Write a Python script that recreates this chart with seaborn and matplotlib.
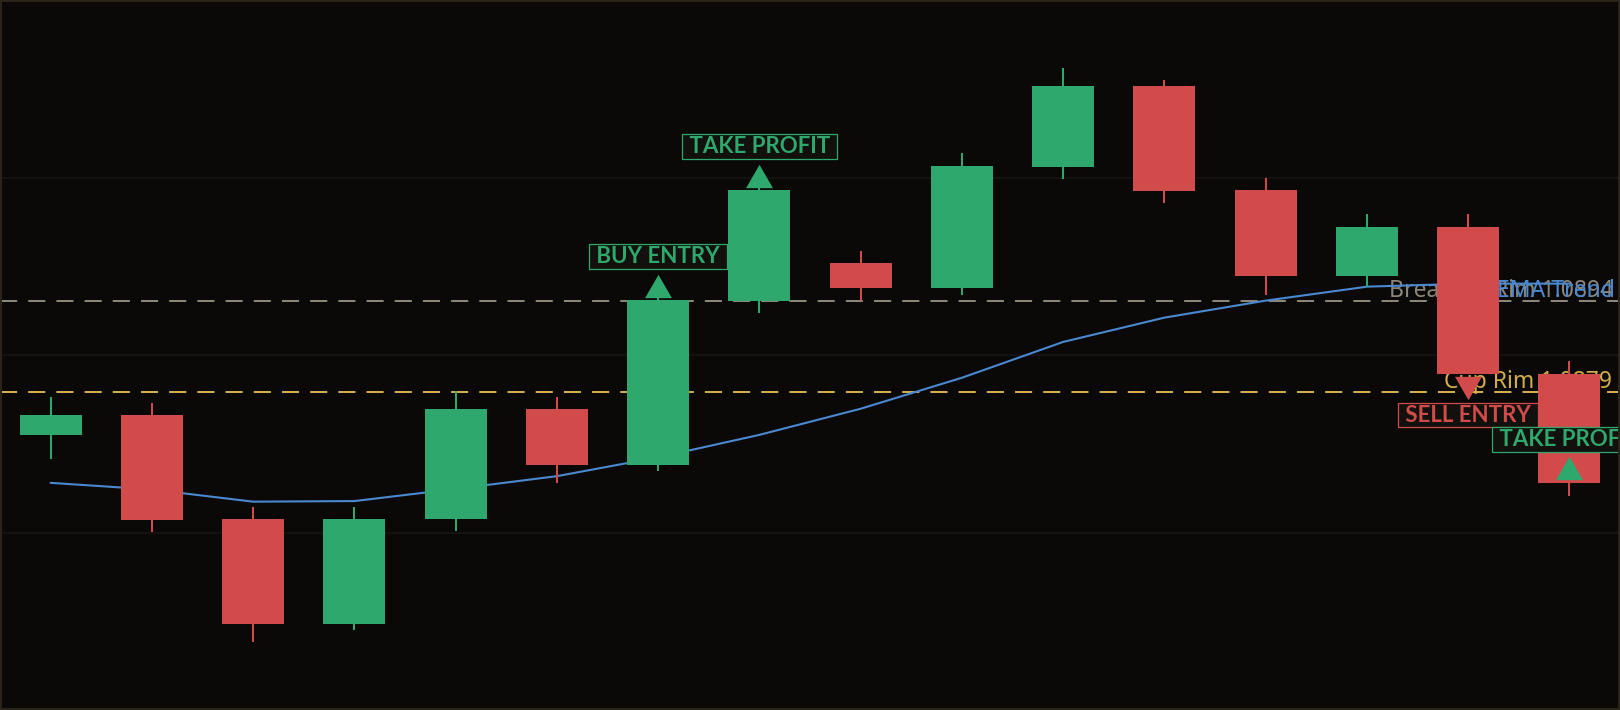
import matplotlib
matplotlib.use("Agg")
import matplotlib.pyplot as plt
import matplotlib.transforms as mtransforms
from matplotlib.patches import Rectangle
from matplotlib import font_manager
import numpy as np
import pandas as pd
import seaborn as sns

# price data (16 candles)
opens  = [1.08719, 1.08752, 1.08580, 1.08408, 1.08581, 1.08762, 1.08670, 1.08940,
          1.09002, 1.08961, 1.09160, 1.09294, 1.09122, 1.08981, 1.09061, 1.08820]
highs  = [1.08781, 1.08772, 1.08600, 1.08600, 1.08791, 1.08781, 1.08944, 1.09127,
          1.09022, 1.09183, 1.09323, 1.09303, 1.09142, 1.09083, 1.09083, 1.08841]
lows   = [1.08679, 1.08559, 1.08378, 1.08398, 1.08561, 1.08640, 1.08660, 1.08920,
          1.08940, 1.08949, 1.09140, 1.09101, 1.08949, 1.08963, 1.08819, 1.08619]
closes = [1.08752, 1.08579, 1.08408, 1.08581, 1.08762, 1.08670, 1.08941, 1.09122,
          1.08961, 1.09162, 1.09294, 1.09121, 1.08981, 1.09061, 1.08820, 1.08640]
ema    = [1.08640, 1.08629, 1.08609, 1.08610, 1.08630, 1.08651, 1.08682, 1.08719,
          1.08762, 1.08813, 1.08872, 1.08912, 1.08940, 1.08963, 1.08968, 1.08968]

BREAKOUT_RIM = 1.0894
CUP_RIM = 1.0879

# trade signals
signal_idx  = [6, 7, 14, 15]
signal_text = ['BUY ENTRY', 'TAKE PROFIT', 'SELL ENTRY', 'TAKE PROFIT']
signal_side = ['up', 'up', 'down', 'up']

#colors
BG = '#0a0908'
GREEN = '#2ea86c'
RED = '#d14b4b'
BLUE = '#4a88d0'
GREY = '#8c8679'
GOLD = '#d2ad4e'

sns.set_theme(style='dark', rc={'figure.facecolor': BG, 'axes.facecolor': BG})
plt.rcParams['font.family'] = ['Noto Sans', 'DejaVu Sans']

# pick a family that really has a bold face for the signal labels
bold_family = 'DejaVu Sans'
for fam in ['Lato', 'Roboto', 'Noto Sans', 'Open Sans', 'Liberation Sans']:
    try:
        f = font_manager.findfont(font_manager.FontProperties(family=fam, weight='bold'),
                                  fallback_to_default=False)
        if 'bold' in f.lower():
            bold_family = fam
            break
    except Exception:
        pass

df = pd.DataFrame({'open': opens, 'high': highs, 'low': lows, 'close': closes, 'ema': ema})
df['idx'] = np.arange(len(df))
df['color'] = np.where(df['close'] >= df['open'], GREEN, RED)

fig = plt.figure(figsize=(16.2, 7.1), dpi=100)
ax = fig.add_axes([0, 0, 1, 1])
ax.set_facecolor(BG)

ax.set_xlim(-0.5, len(df) - 0.5)
ymin, ymax = 1.08266, 1.09435
ax.set_ylim(ymin, ymax)
ax.set_yticks(np.linspace(ymin, ymax, 5)[1:-1])
ax.set_xticks([])
ax.grid(axis='y', color='#181614', lw=1.2)
ax.grid(axis='x', visible=False)
ax.tick_params(length=0, labelleft=False, labelbottom=False)
for s in ax.spines.values():
    s.set_visible(False)

# horizontal levels
ax.axhline(BREAKOUT_RIM, color=GREY, lw=1.45, ls=(0, (8.5, 5.5)), zorder=1)
ax.axhline(CUP_RIM, color=GOLD, lw=1.45, ls=(0, (8.5, 5.5)), zorder=1)
blend = mtransforms.blended_transform_factory(ax.transAxes, ax.transData)
ax.annotate(f'Breakout Rim {BREAKOUT_RIM:.4f}', xy=(1, BREAKOUT_RIM), xycoords=blend,
            xytext=(-7, 4), textcoords='offset pixels', ha='right', va='baseline',
            color=GREY, fontsize=16.5, zorder=1.5)
ax.annotate(f'Cup Rim {CUP_RIM:.4f}', xy=(1, CUP_RIM), xycoords=blend,
            xytext=(-8, 3.5), textcoords='offset pixels', ha='right', va='baseline',
            color=GOLD, fontsize=16.5, zorder=1.5)

# EMA
sns.lineplot(data=df, x='idx', y='ema', ax=ax, color=BLUE, lw=1.5, zorder=2, legend=False)
ax.annotate('EMA Trend', xy=(1, ema[-1]), xycoords=blend,
            xytext=(-5, -13.5), textcoords='offset pixels', ha='right', va='baseline',
            color=BLUE, fontsize=16.5, zorder=2)
ax.set_xlabel('')
ax.set_ylabel('')

# candles
ax.vlines(df['idx'], df['low'], df['high'], colors=df['color'], lw=1.45, zorder=3)
body_lo = df[['open', 'close']].min(axis=1)
body_hi = df[['open', 'close']].max(axis=1)
ax.bar(df['idx'], body_hi - body_lo, bottom=body_lo, width=0.61, color=df['color'],
       linewidth=0, zorder=3.5)

# signal markers and labels
tri_up = [(0, 0.866), (-1, -0.866), (1, -0.866)]
tri_dn = [(0, -0.866), (-1, 0.866), (1, 0.866)]
for i, txt, side in zip(signal_idx, signal_text, signal_side):
    c = GREEN if side == 'up' else RED
    sign = 1 if side == 'up' else -1
    tr = mtransforms.offset_copy(ax.transData, fig=fig, x=0, y=sign * 14.5, units='dots')
    ax.plot([i], [closes[i]], marker=tri_up if side == 'up' else tri_dn, ms=19.4,
            color=c, mew=0, ls='none', transform=tr, zorder=5)
    ax.annotate(f' {txt} ', xy=(i, closes[i]), xytext=(0, 43.5 if side == 'up' else -41.5),
                textcoords='offset pixels', ha='center', va='center', color=c,
                fontsize=16, fontweight='bold', family=[bold_family, 'DejaVu Sans'],
                zorder=6, annotation_clip=False,
                bbox=dict(boxstyle='square,pad=0.08', fc='#13110e', ec=c, lw=0.9))

fig.patches.append(Rectangle((0, 0), 1, 1, transform=fig.transFigure, fill=False,
                             edgecolor='#2b2419', lw=2.9, zorder=10))

fig.savefig('out.png', dpi=100, facecolor=BG)
